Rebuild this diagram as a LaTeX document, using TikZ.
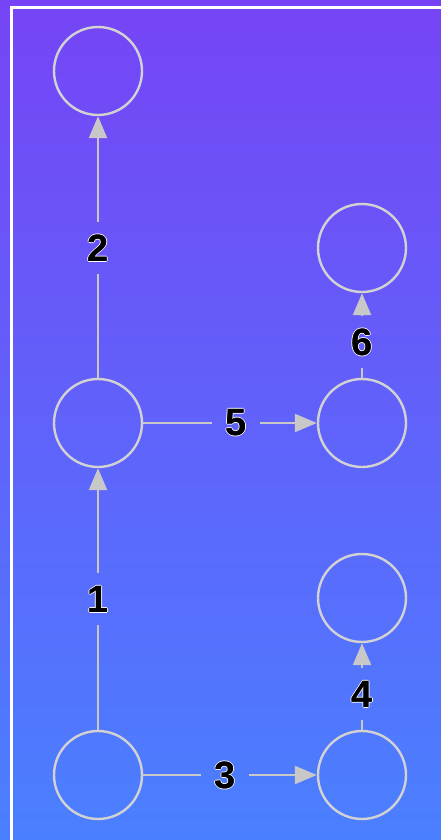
\documentclass[tikz,border=0pt]{standalone}
\usepackage{fontspec}
\setmainfont{Liberation Sans}
\usetikzlibrary{arrows.meta}
\definecolor{bgtop}{HTML}{7644F6}
\definecolor{bgmid}{HTML}{5C5EFF}
\definecolor{bgbot}{HTML}{4A80FF}
\definecolor{edgegray}{HTML}{C8C8C8}
\definecolor{ringgray}{HTML}{D2D2D2}
\newcommand\halodigit[1]{\begingroup\setbox0\hbox{#1}%
\rlap{\color{white}\kern-1pt\copy0}\rlap{\color{white}\kern1pt\copy0}%
\rlap{\color{white}\raise1pt\copy0}\rlap{\color{white}\lower1pt\copy0}%
\rlap{\kern0.4pt\copy0}\box0\endgroup}
\begin{document}
\begin{tikzpicture}[x=1pt,y=-1pt,
 ring/.style={circle,draw=ringgray,line width=2.4pt,minimum size=88pt,inner sep=0pt},
 lbl/.style={minimum width=48pt,minimum height=52pt,inner sep=0pt,font=\fontsize{38}{40}\selectfont\bfseries,text=black},
 conn/.style={draw=edgegray,line width=2.4pt},
 arr/.style={conn,-{Triangle[length=22pt,width=18pt]}}]
\useasboundingbox (0,0) rectangle (441,840);
\clip (0,0) rectangle (441,840);
\shade[top color=bgtop,middle color=bgmid,bottom color=bgbot] (0,0) rectangle (441,840);
\draw[white,line width=3pt] (11.5,7.5) rectangle (470,870);
% nodes
\node[ring] (c1) at (98,71) {};
\node[ring] (c2) at (98,423) {};
\node[ring] (c3) at (98,775) {};
\node[ring] (c4) at (362,248) {};
\node[ring] (c5) at (362,423) {};
\node[ring] (c6) at (362,598) {};
\node[ring] (c7) at (362,775) {};
% labels
\node[lbl] (l1) at (98,599) {\halodigit{1}};
\node[lbl] (l2) at (98,248) {\halodigit{2}};
\node[lbl] (l3) at (225,775) {\halodigit{3}};
\node[lbl] (l4) at (362,694) {\halodigit{4}};
\node[lbl] (l5) at (236,423) {\halodigit{5}};
\node[lbl] (l6) at (362,342) {\halodigit{6}};
% connectors
\draw[conn] (c3.north) -- (l1.south);
\draw[arr] (l1.north) -- (c2.south);
\draw[conn] (c2.north) -- (l2.south);
\draw[arr] (l2.north) -- (c1.south);
\draw[conn] (c3.east) -- (l3.west);
\draw[arr] (l3.east) -- (c7.west);
\draw[conn] (c7.north) -- (l4.south);
\draw[arr] (l4.north) -- (c6.south);
\draw[conn] (c2.east) -- (l5.west);
\draw[arr] (l5.east) -- (c5.west);
\draw[conn] (c5.north) -- (l6.south);
\draw[arr] (l6.north) -- (c4.south);
\end{tikzpicture}
\end{document}
